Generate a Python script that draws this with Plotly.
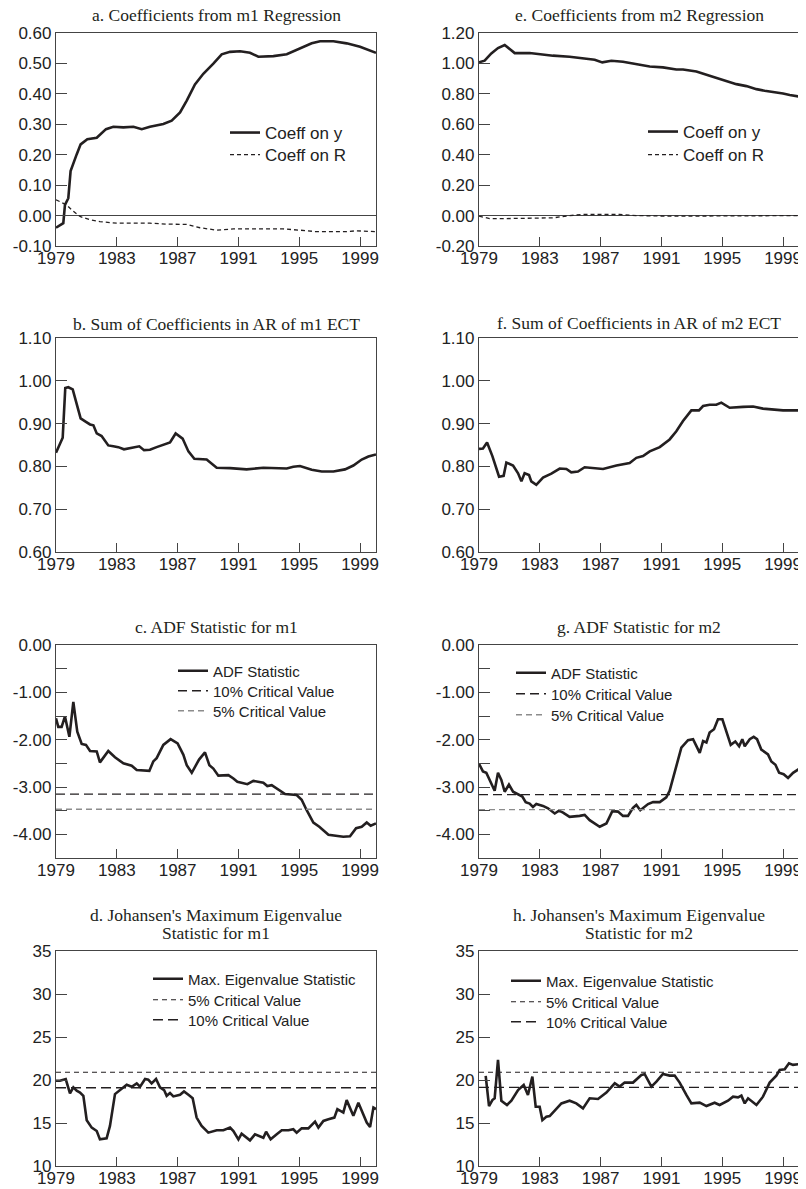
import plotly.graph_objects as go

W, H = 806, 1189
PAGE_OFFSET = 8  # the browser's default body margin shifts the figure by this much
X_END = 2000.05
YEAR_TICKS = [1979, 1983, 1987, 1991, 1995, 1999]

# ---------------- data ----------------
# a. Coefficients from m1 Regression
a_y_x = [1979.0, 1979.48, 1979.59, 1979.81, 1979.96, 1980.18, 1980.36, 1980.62, 1981.06, 1981.68,
         1982.29, 1982.77, 1983.43, 1984.09, 1984.64, 1985.18, 1986.06, 1986.61, 1987.16, 1987.60,
         1988.14, 1988.69, 1989.35, 1989.90, 1990.45, 1991.11, 1991.76, 1992.31, 1993.30, 1994.18,
         1995.05, 1995.82, 1996.37, 1997.25, 1998.12, 1999.0, 2000.05]
a_coeff_y = [-0.040, -0.025, 0.035, 0.057, 0.146, 0.173, 0.201, 0.234, 0.251, 0.256,
             0.284, 0.292, 0.290, 0.292, 0.284, 0.292, 0.301, 0.312, 0.339, 0.378,
             0.431, 0.466, 0.499, 0.530, 0.538, 0.540, 0.535, 0.522, 0.524, 0.530,
             0.549, 0.566, 0.573, 0.573, 0.566, 0.555, 0.535]
a_r_x = [1979.0, 1979.70, 1980.03, 1980.58, 1981.24, 1981.89, 1982.99, 1985.18, 1986.28, 1987.60,
         1988.47, 1989.57, 1990.67, 1993.96, 1995.05, 1996.15, 1998.04, 1998.78, 2000.05]
a_coeff_r = [0.052, 0.035, 0.019, -0.003, -0.014, -0.020, -0.025, -0.025, -0.028, -0.029,
             -0.040, -0.048, -0.044, -0.044, -0.048, -0.053, -0.053, -0.050, -0.053]

# e. Coefficients from m2 Regression
e_y_x = [1979.0, 1979.37, 1979.81, 1980.25, 1980.69, 1981.02, 1981.35, 1982.33, 1983.21, 1983.87,
         1984.96, 1985.84, 1986.61, 1987.11, 1987.71, 1988.47, 1989.35, 1990.23, 1991.10, 1991.98,
         1992.42, 1993.30, 1994.17, 1995.05, 1995.93, 1996.59, 1997.25, 1997.79, 1998.34, 1999.0,
         1999.44, 2000.05]
e_coeff_y = [1.007, 1.018, 1.066, 1.101, 1.121, 1.095, 1.068, 1.068, 1.057, 1.051,
             1.044, 1.035, 1.024, 1.007, 1.018, 1.011, 0.996, 0.980, 0.974, 0.960,
             0.960, 0.947, 0.919, 0.890, 0.864, 0.851, 0.831, 0.820, 0.813, 0.802,
             0.793, 0.782]
e_r_x = [1979.0, 1979.70, 1980.58, 1982.77, 1983.87, 1984.96, 1985.84, 1988.25, 1989.35, 1991.54,
         1995.93, 2000.05]
e_coeff_r = [-0.004, -0.020, -0.020, -0.015, -0.015, 0.0, 0.007, 0.007, 0.0, -0.004,
             -0.004, 0.0]

# b. Sum of Coefficients in AR of m1 ECT
b_x = [1979.0, 1979.22, 1979.44, 1979.61, 1979.81, 1980.10, 1980.36, 1980.62, 1980.97, 1981.24,
       1981.46, 1981.68, 1982.0, 1982.44, 1982.77, 1983.10, 1983.47, 1983.98, 1984.48, 1984.79,
       1985.18, 1985.62, 1986.06, 1986.50, 1986.87, 1987.33, 1987.71, 1988.10, 1988.91, 1989.57,
       1990.45, 1991.54, 1992.64, 1993.52, 1994.18, 1994.61, 1995.05, 1995.82, 1996.48, 1997.25,
       1998.01, 1998.56, 1999.11, 1999.55, 2000.05]
b_sum = [0.832, 0.849, 0.867, 0.983, 0.985, 0.980, 0.943, 0.912, 0.904, 0.898,
         0.896, 0.877, 0.871, 0.849, 0.847, 0.845, 0.840, 0.844, 0.847, 0.838,
         0.839, 0.845, 0.851, 0.856, 0.877, 0.865, 0.835, 0.818, 0.816, 0.797,
         0.796, 0.793, 0.797, 0.795, 0.795, 0.799, 0.801, 0.792, 0.788, 0.788,
         0.793, 0.802, 0.816, 0.823, 0.828]

# f. Sum of Coefficients in AR of m2 ECT
f_x = [1979.0, 1979.26, 1979.53, 1979.88, 1980.32, 1980.62, 1980.80, 1981.02, 1981.24, 1981.57,
       1981.79, 1982.0, 1982.29, 1982.44, 1982.77, 1983.21, 1983.76, 1984.31, 1984.75, 1985.07,
       1985.51, 1985.95, 1986.50, 1987.16, 1988.04, 1988.91, 1989.35, 1989.79, 1990.23, 1990.89,
       1991.54, 1991.98, 1992.42, 1992.97, 1993.47, 1993.74, 1994.17, 1994.61, 1994.94, 1995.49,
       1996.37, 1997.03, 1997.68, 1998.34, 1999.0, 2000.05]
f_sum = [0.841, 0.842, 0.856, 0.824, 0.776, 0.778, 0.809, 0.805, 0.802, 0.784,
         0.765, 0.784, 0.780, 0.765, 0.757, 0.774, 0.783, 0.795, 0.794, 0.786,
         0.788, 0.798, 0.796, 0.794, 0.802, 0.808, 0.820, 0.824, 0.835, 0.845,
         0.863, 0.882, 0.906, 0.931, 0.931, 0.941, 0.944, 0.944, 0.949, 0.937,
         0.939, 0.940, 0.935, 0.933, 0.931, 0.931]

# c. ADF Statistic for m1
c_x = [1979.0, 1979.15, 1979.37, 1979.59, 1979.88, 1980.14, 1980.40, 1980.69, 1980.97, 1981.24,
       1981.68, 1981.89, 1982.44, 1982.88, 1983.43, 1983.98, 1984.31, 1985.14, 1985.40, 1985.62,
       1986.06, 1986.54, 1987.0, 1987.38, 1987.60, 1987.93, 1988.41, 1988.80, 1989.09, 1989.35,
       1989.68, 1990.34, 1990.67, 1990.93, 1991.59, 1991.98, 1992.64, 1992.90, 1993.19, 1993.63,
       1994.07, 1994.83, 1995.16, 1995.49, 1995.93, 1996.32, 1996.92, 1997.90, 1998.34, 1998.74,
       1999.11, 1999.44, 1999.70, 2000.05]
c_adf = [-1.55, -1.73, -1.73, -1.51, -1.94, -1.20, -1.83, -2.09, -2.11, -2.24,
         -2.25, -2.48, -2.24, -2.37, -2.50, -2.55, -2.64, -2.66, -2.46, -2.39,
         -2.11, -1.99, -2.08, -2.32, -2.54, -2.70, -2.42, -2.27, -2.54, -2.61,
         -2.76, -2.75, -2.82, -2.89, -2.94, -2.87, -2.91, -2.98, -2.96, -3.05,
         -3.15, -3.17, -3.27, -3.49, -3.75, -3.84, -4.01, -4.05, -4.04, -3.87,
         -3.84, -3.75, -3.82, -3.77]
c_crit10 = -3.15
c_crit5 = -3.47

# g. ADF Statistic for m2
g_x = [1979.0, 1979.26, 1979.48, 1979.75, 1980.03, 1980.25, 1980.47, 1980.69, 1980.97, 1981.24,
       1981.57, 1981.85, 1982.07, 1982.33, 1982.55, 1982.77, 1983.21, 1983.54, 1983.98, 1984.26,
       1984.53, 1984.96, 1985.62, 1985.95, 1986.28, 1986.61, 1986.94, 1987.38, 1987.77, 1988.14,
       1988.47, 1988.80, 1989.13, 1989.35, 1989.61, 1990.12, 1990.45, 1990.89, 1991.32, 1991.54,
       1991.87, 1992.31, 1992.75, 1993.08, 1993.52, 1993.74, 1993.96, 1994.17, 1994.46, 1994.72,
       1995.01, 1995.27, 1995.56, 1995.86, 1996.11, 1996.32, 1996.48, 1996.81, 1997.07, 1997.29,
       1997.57, 1998.01, 1998.23, 1998.50, 1998.74, 1999.04, 1999.33, 1999.66, 2000.05]
g_adf = [-2.51, -2.67, -2.70, -2.88, -3.08, -2.70, -2.85, -3.10, -2.95, -3.10,
         -3.15, -3.20, -3.32, -3.35, -3.42, -3.36, -3.40, -3.45, -3.56, -3.50,
         -3.54, -3.63, -3.61, -3.59, -3.70, -3.77, -3.84, -3.77, -3.51, -3.52,
         -3.61, -3.61, -3.44, -3.38, -3.49, -3.36, -3.32, -3.32, -3.22, -3.08,
         -2.67, -2.17, -2.01, -1.99, -2.28, -2.03, -2.06, -1.85, -1.78, -1.57,
         -1.57, -1.85, -2.11, -2.04, -2.14, -1.99, -2.14, -1.99, -1.94, -1.99,
         -2.21, -2.31, -2.46, -2.53, -2.70, -2.73, -2.81, -2.70, -2.62]
g_crit10 = -3.16
g_crit5 = -3.48

# d. Johansen's Maximum Eigenvalue Statistic for m1
d_x = [1979.0, 1979.26, 1979.64, 1979.92, 1980.14, 1980.36, 1980.58, 1980.80, 1981.02, 1981.35,
       1981.68, 1981.89, 1982.33, 1982.55, 1982.88, 1983.43, 1983.65, 1983.98, 1984.31, 1984.53,
       1984.86, 1985.07, 1985.29, 1985.58, 1985.84, 1986.11, 1986.28, 1986.50, 1986.72, 1987.16,
       1987.42, 1987.71, 1987.99, 1988.25, 1988.58, 1989.02, 1989.57, 1990.01, 1990.45, 1990.67,
       1991.0, 1991.21, 1991.76, 1992.09, 1992.64, 1992.82, 1993.12, 1993.52, 1993.85, 1994.29,
       1994.61, 1994.83, 1995.16, 1995.60, 1996.04, 1996.26, 1996.59, 1996.92, 1997.31, 1997.51,
       1997.90, 1998.12, 1998.56, 1998.89, 1999.22, 1999.44, 1999.66, 1999.88, 2000.05]
d_maxeig = [19.92, 19.92, 20.11, 18.44, 19.14, 18.75, 18.55, 18.16, 15.32, 14.46,
            14.07, 13.10, 13.21, 14.66, 18.36, 19.14, 19.45, 19.22, 19.61, 19.22,
            20.11, 20.04, 19.61, 20.11, 19.14, 18.83, 18.16, 18.48, 18.09, 18.28,
            18.67, 18.28, 17.89, 15.63, 14.66, 13.88, 14.15, 14.15, 14.46, 14.07,
            13.10, 13.76, 12.98, 13.68, 13.29, 13.99, 13.10, 13.68, 14.15, 14.15,
            14.27, 13.88, 14.38, 14.38, 15.16, 14.46, 15.24, 15.44, 15.63, 16.61,
            16.22, 17.66, 15.83, 17.35, 16.02, 15.05, 14.54, 16.80, 16.61]
d_crit5 = 20.9
d_crit10 = 19.1

# h. Johansen's Maximum Eigenvalue Statistic for m2
h_x = [1979.44, 1979.66, 1979.88, 1980.03, 1980.25, 1980.47, 1980.84, 1981.13, 1981.57, 1981.94,
       1982.22, 1982.51, 1982.73, 1982.99, 1983.17, 1983.43, 1983.65, 1984.09, 1984.42, 1984.96,
       1985.40, 1985.84, 1986.28, 1986.83, 1987.38, 1987.93, 1988.25, 1988.58, 1989.13, 1989.68,
       1989.90, 1990.34, 1990.67, 1991.10, 1991.54, 1991.87, 1992.20, 1992.64, 1992.97, 1993.52,
       1993.96, 1994.50, 1994.83, 1995.38, 1995.71, 1996.04, 1996.26, 1996.48, 1996.70, 1997.25,
       1997.68, 1998.12, 1998.56, 1998.78, 1999.11, 1999.39, 1999.66, 2000.05]
h_maxeig = [20.48, 16.97, 17.67, 17.87, 22.34, 17.59, 17.09, 17.59, 18.84, 19.42,
            18.26, 20.40, 16.89, 16.89, 15.33, 15.72, 15.80, 16.70, 17.28, 17.59,
            17.28, 16.70, 17.87, 17.79, 18.53, 19.62, 19.23, 19.70, 19.70, 20.59,
            20.67, 19.23, 19.81, 20.71, 20.51, 20.51, 19.70, 18.26, 17.28, 17.36,
            16.97, 17.36, 17.09, 17.59, 18.06, 17.98, 18.18, 17.28, 17.87, 17.09,
            18.06, 19.70, 20.51, 21.18, 21.25, 21.95, 21.76, 21.84]
h_crit5 = 20.9
h_crit10 = 19.15

titles = {
    "a": ["a. Coefficients from m1 Regression"],
    "e": ["e. Coefficients from m2 Regression"],
    "b": ["b. Sum of Coefficients in AR of m1 ECT"],
    "f": ["f. Sum of Coefficients in AR of m2 ECT"],
    "c": ["c. ADF Statistic for m1"],
    "g": ["g. ADF Statistic for m2"],
    "d": ["d. Johansen's Maximum Eigenvalue", "Statistic for m1"],
    "h": ["h. Johansen's Maximum Eigenvalue", "Statistic for m2"],
}

# ---------------- styling / layout ----------------
INK = "#231f20"
GREY = "#8c8c8c"
SANS = "Liberation Sans, Arial, sans-serif"
SERIF = "Liberation Serif, Times New Roman, serif"
MAIN_W = 2.6

# pixel boxes of the plot areas (page pixels)
COLS = {"L": (56, 376), "R": (479, 799)}
ROWS = [(33, 246), (338, 552), (645, 858), (951, 1166)]

panels = [  # key, axis index, column, row
    ("a", 1, "L", 0), ("e", 2, "R", 0),
    ("b", 3, "L", 1), ("f", 4, "R", 1),
    ("c", 5, "L", 2), ("g", 6, "R", 2),
    ("d", 7, "L", 3), ("h", 8, "R", 3),
]

def fmt2(v):
    return "%.2f" % v

def half_fmt(v):
    return fmt2(v) if abs(v - round(v)) < 1e-9 else ""

yspec = {
    "a": dict(range=[-0.1, 0.6], vals=[i / 10 for i in range(-1, 7)], lab=fmt2, zl=True),
    "e": dict(range=[-0.2, 1.2], vals=[i / 10 for i in range(-2, 13, 2)], lab=fmt2, zl=True),
    "b": dict(range=[0.6, 1.1], vals=[i / 10 for i in range(6, 12)], lab=fmt2, zl=False),
    "f": dict(range=[0.6, 1.1], vals=[i / 10 for i in range(6, 12)], lab=fmt2, zl=False),
    "c": dict(range=[-4.5, 0.0], vals=[-i / 2 for i in range(0, 9)], lab=half_fmt, zl=False),
    "g": dict(range=[-4.5, 0.0], vals=[-i / 2 for i in range(0, 9)], lab=half_fmt, zl=False),
    "d": dict(range=[10, 35], vals=list(range(10, 36, 5)), lab=lambda v: str(int(v)), zl=False),
    "h": dict(range=[10, 35], vals=list(range(10, 36, 5)), lab=lambda v: str(int(v)), zl=False),
}
title_y = {"a": [15], "e": [15], "b": [324], "f": [323], "c": [627], "g": [627],
           "d": [915, 933], "h": [915, 933]}

fig = go.Figure()
layout = dict(width=W, height=H, margin=dict(l=0, r=0, t=0, b=0, pad=0, autoexpand=False),
              autosize=False, paper_bgcolor="white", plot_bgcolor="white", showlegend=True,
              font=dict(family=SANS, color="#222", size=17))
annotations = []

def px_x(p):
    return (p - PAGE_OFFSET) / W

def px_y(p):
    return 1 - (p - PAGE_OFFSET) / H

for key, i, col, row in panels:
    sfx = "" if i == 1 else str(i)
    l, r = COLS[col]
    t, b = ROWS[row]
    ys = yspec[key]
    layout["xaxis" + sfx] = dict(
        domain=[px_x(l), px_x(r)], range=[1979, X_END], anchor="y" + sfx, automargin=False,
        tickmode="array", tickvals=YEAR_TICKS, ticktext=[str(v) for v in YEAR_TICKS],
        ticks="inside", ticklen=9, tickwidth=1.2, tickcolor="#444", ticklabelstandoff=-4,
        showline=True, linecolor="#444", linewidth=1.2, mirror=True,
        showgrid=False, zeroline=False, tickfont=dict(size=17, color="#222", family=SANS),
        fixedrange=True)
    layout["yaxis" + sfx] = dict(
        domain=[px_y(b), px_y(t)], range=ys["range"], anchor="x" + sfx, automargin=False,
        tickmode="array", tickvals=ys["vals"], ticktext=[ys["lab"](v) for v in ys["vals"]],
        ticks="inside", ticklen=11, tickwidth=1.2, tickcolor="#444",
        showline=True, linecolor="#444", linewidth=1.2, mirror=True,
        showgrid=False, zeroline=ys["zl"], zerolinecolor="#444", zerolinewidth=1,
        tickfont=dict(size=17, color="#222", family=SANS), fixedrange=True)
    for line, yy in zip(titles[key], title_y[key]):
        annotations.append(dict(text=line, x=px_x((l + r) / 2), y=px_y(yy), xref="paper", yref="paper",
                                xanchor="center", yanchor="middle", showarrow=False,
                                font=dict(family=SERIF, size=17.5, color=INK)))

# one legend per entry so every row can be placed like the original
legend_items = []  # (legend id, sample start px, row centre px, font size)
_leg_count = [0]

def new_legend(sx, cy, fs):
    _leg_count[0] += 1
    n = _leg_count[0]
    lid = "legend" if n == 1 else "legend%d" % n
    legend_items.append((lid, sx, cy, fs))
    return lid

def add(x, y, ax, name, color=INK, width=MAIN_W, dash="solid", leg=None):
    sfx = "" if ax == 1 else str(ax)
    kw = {}
    if leg is not None:
        kw["legend"] = new_legend(*leg)
    fig.add_trace(go.Scatter(x=x, y=y, mode="lines", name=name,
                             showlegend=leg is not None, xaxis="x" + sfx, yaxis="y" + sfx,
                             line=dict(color=color, width=width, dash=dash),
                             hoverinfo="skip", **kw))

XSPAN = [1979, X_END]
# a
add(a_y_x, a_coeff_y, 1, "Coeff on y", leg=(230, 133, 17))
add(a_r_x, a_coeff_r, 1, "Coeff on R", width=1.3, dash="4px,3px", leg=(230, 155, 17))
# e
add(e_y_x, e_coeff_y, 2, "Coeff on y", leg=(648, 132, 17))
add(e_r_x, e_coeff_r, 2, "Coeff on R", width=1.3, dash="4px,3px", leg=(648, 155, 17))
# b, f
add(b_x, b_sum, 3, "Sum of coefficients (m1)")
add(f_x, f_sum, 4, "Sum of coefficients (m2)")
# c
add(c_x, c_adf, 5, "ADF Statistic", leg=(178, 671, 15))
add(XSPAN, [c_crit10] * 2, 5, "10% Critical Value", width=1.3, dash="9px,5px", leg=(178, 691, 15))
add(XSPAN, [c_crit5] * 2, 5, "5% Critical Value", color=GREY, width=1.3, dash="6px,4px", leg=(178, 711, 15))
# g
add(g_x, g_adf, 6, "ADF Statistic", leg=(516, 673, 15))
add(XSPAN, [g_crit10] * 2, 6, "10% Critical Value", width=1.3, dash="9px,5px", leg=(516, 694, 15))
add(XSPAN, [g_crit5] * 2, 6, "5% Critical Value", color=GREY, width=1.3, dash="6px,4px", leg=(516, 715, 15))
# d
add(d_x, d_maxeig, 7, "Max. Eigenvalue Statistic", leg=(153, 979, 15))
add(XSPAN, [d_crit5] * 2, 7, "5% Critical Value", width=1.1, dash="5px,4px", leg=(153, 1000, 15))
add(XSPAN, [d_crit10] * 2, 7, "10% Critical Value", width=1.3, dash="10px,5px", leg=(153, 1020, 15))
# h
add(h_x, h_maxeig, 8, "Max. Eigenvalue Statistic", leg=(511, 981, 15))
add(XSPAN, [h_crit5] * 2, 8, "5% Critical Value", width=1.1, dash="5px,4px", leg=(511, 1002, 15))
add(XSPAN, [h_crit10] * 2, 8, "10% Critical Value", width=1.3, dash="10px,5px", leg=(511, 1022, 15))

for lid, sx, cy, fs in legend_items:
    layout[lid] = dict(x=px_x(sx - 5), y=px_y(cy), xanchor="left", yanchor="middle",
                       bgcolor="rgba(0,0,0,0)", borderwidth=0, tracegroupgap=0,
                       font=dict(family=SANS, size=fs, color="#222"), itemwidth=30)

layout["annotations"] = annotations
fig.update_layout(**layout)
fig.write_html("out.html")
